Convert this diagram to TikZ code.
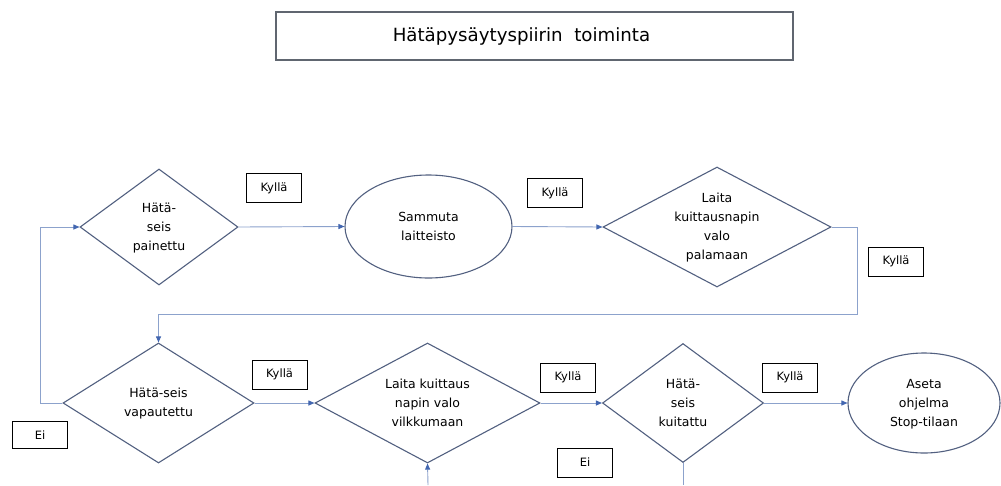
\documentclass[tikz,border=0pt]{standalone}
\usepackage{fontspec}
\setmainfont{DejaVu Sans}
\usetikzlibrary{shapes.geometric,arrows.meta}

\definecolor{shapeline}{RGB}{82,96,128}
\definecolor{connline}{RGB}{140,162,204}
\definecolor{tipblue}{RGB}{66,102,176}
\definecolor{titleline}{RGB}{96,102,112}

% zero-size multi-line text, so the shape takes its size from the style only
\newcommand{\ztext}[1]{\makebox[0pt]{\smash{\raisebox{-0.28em}{\begin{tabular}[c]{@{}c@{}}#1\end{tabular}}}}}

\tikzset{
  dia/.style n args={2}{diamond, draw=shapeline, line width=1.1pt, inner sep=0pt,
    minimum width=#1, minimum height=#2, font=\fontsize{12.5}{19}\selectfont},
  ell/.style n args={2}{ellipse, draw=shapeline, line width=1.1pt, inner sep=0pt,
    minimum width=#1, minimum height=#2, font=\fontsize{12.5}{19}\selectfont},
  tag/.style={draw=black, line width=0.9pt, inner sep=0pt, minimum width=55pt,
    minimum height=29pt, font=\fontsize{11.5}{14}\selectfont},
  conn/.style={draw=connline, line width=0.9pt,
    -{Triangle[length=6pt,width=5pt,color=tipblue]}},
  plain/.style={draw=connline, line width=0.9pt},
}

\begin{document}
\begin{tikzpicture}[x=1pt,y=-1pt]
\useasboundingbox (0,0) rectangle (1001,485);

% title
\node[draw=titleline, line width=1.5pt, minimum width=517pt, minimum height=48pt,
  inner sep=0pt, font=\fontsize{18.2}{20}\selectfont] (title) at (534.5,36)
  {\kern-13pt Hätäpysäytyspiirin\ \ toiminta\kern13pt};

% upper row
\node[dia={158pt}{116pt}] (d1) at (159,227) {\ztext{Hätä-\\seis\\painettu}};
\node[ell={167pt}{103pt}] (e1) at (428.5,226.5) {\ztext{Sammuta\\laitteisto}};
\node[dia={228pt}{120pt}] (d3) at (717,227) {\ztext{Laita\\kuittausnapin\\valo\\palamaan}};

% lower row
\node[dia={191pt}{120pt}] (d4) at (158.5,403) {\ztext{Hätä-seis\\vapautettu}};
\node[dia={225pt}{120pt}] (d5) at (427.5,403) {\ztext{Laita kuittaus\\napin valo\\vilkkumaan}};
\node[dia={161pt}{119pt}] (d6) at (683,403) {\ztext{Hätä-\\seis\\kuitattu}};
\node[ell={152pt}{100pt}] (e2) at (924,403) {\ztext{Aseta\\ohjelma\\Stop-tilaan}};

% answer tags
\node[tag] (k1) at (274,188) {Kyllä};
\node[tag] (k2) at (555,193) {Kyllä};
\node[tag] (k3) at (896,261.5) {Kyllä};
\node[tag] (k4) at (279.5,374.5) {Kyllä};
\node[tag] (k5) at (568,377.5) {Kyllä};
\node[tag] (k6) at (790,377.5) {Kyllä};
\node[tag, minimum height=27pt] (n1) at (40,435) {Ei};
\node[tag] (n2) at (585,462.5) {Ei};

% loop points
\coordinate (r1) at (857,314);
\coordinate (l1) at (40,403);
\coordinate (b5) at (428,485);
\coordinate (b6) at (683,485);

% connectors
\draw[conn] (d1.east) -- (e1.west);
\draw[conn] (e1.east) -- (d3.west);
\draw[conn] (d3.east) -| (r1) -| (d4.north);
\draw[conn] (d4.west) -- (l1) |- (d1.west);
\draw[conn] (d4.east) -- (d5.west);
\draw[conn] (d5.east) -- (d6.west);
\draw[conn] (d6.east) -- (e2.west);
\draw[conn] (b5) -- (d5.south);
\draw[plain] (d6.south) -- (b6);
\end{tikzpicture}
\end{document}
